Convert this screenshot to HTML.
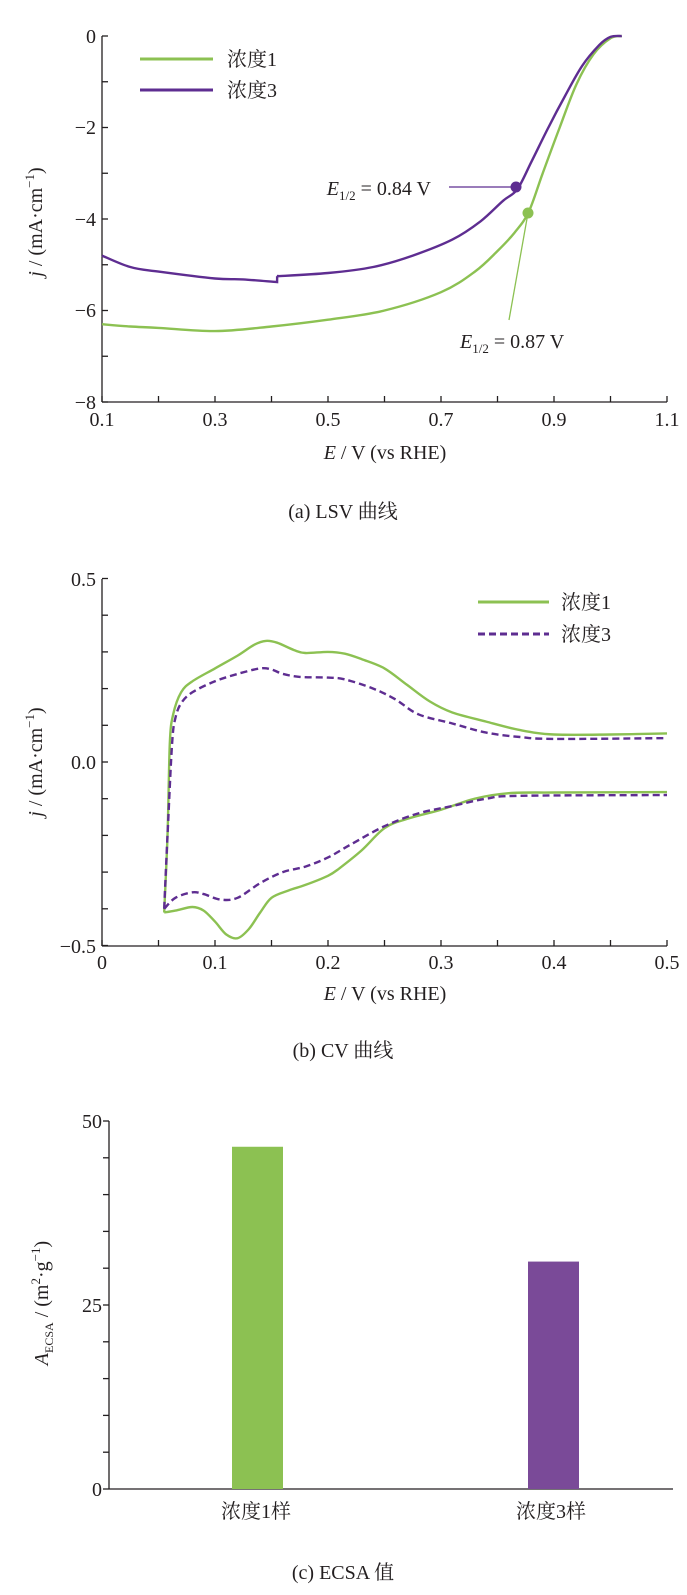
<!DOCTYPE html>
<html><head><meta charset="utf-8">
<style>
html,body{margin:0;padding:0;background:#fff;}
svg{display:block;}
text{font-family:"Liberation Serif","Noto Serif CJK SC","Noto Sans CJK SC",serif;fill:#231f20;}
</style></head>
<body>
<svg id="s" width="687" height="1595" viewBox="0 0 687 1595" xmlns="http://www.w3.org/2000/svg">
<g id="g" stroke-linecap="butt"></g>
<g font-size="20" text-anchor="end">
<text x="96" y="43">0</text><text x="96" y="134">−2</text><text x="96" y="226">−4</text><text x="96" y="317">−6</text><text x="96" y="409">−8</text>
</g>
<g font-size="20" text-anchor="middle">
<text x="102" y="426">0.1</text><text x="215" y="426">0.3</text><text x="328" y="426">0.5</text><text x="441" y="426">0.7</text><text x="554" y="426">0.9</text><text x="667" y="426">1.1</text>
<text x="385" y="459"><tspan font-style="italic">E</tspan> / V (vs RHE)</text>
<text x="343" y="518">(a)  LSV 曲线</text>
</g>
<text transform="translate(42,222) rotate(-90)" font-size="20" text-anchor="middle"><tspan font-style="italic">j</tspan> / (mA·cm<tspan font-size="13" dy="-8">−1</tspan><tspan dy="8">)</tspan></text>
<text x="227" y="66" font-size="20">浓度1</text>
<text x="227" y="97" font-size="20">浓度3</text>
<text x="431" y="195" font-size="20" text-anchor="end"><tspan font-style="italic">E</tspan><tspan font-size="13" dy="5">1/2</tspan><tspan dy="-5"> = 0.84 V</tspan></text>
<text x="460" y="348" font-size="20"><tspan font-style="italic">E</tspan><tspan font-size="13" dy="5">1/2</tspan><tspan dy="-5"> = 0.87 V</tspan></text>
<g font-size="20" text-anchor="end">
<text x="96" y="586">0.5</text><text x="96" y="769">0.0</text><text x="96" y="953">−0.5</text>
</g>
<g font-size="20" text-anchor="middle">
<text x="102" y="969">0</text><text x="215" y="969">0.1</text><text x="328" y="969">0.2</text><text x="441" y="969">0.3</text><text x="554" y="969">0.4</text><text x="667" y="969">0.5</text>
<text x="385" y="1000"><tspan font-style="italic">E</tspan> / V (vs RHE)</text>
<text x="343" y="1057">(b)  CV 曲线</text>
</g>
<text transform="translate(42,762) rotate(-90)" font-size="20" text-anchor="middle"><tspan font-style="italic">j</tspan> / (mA·cm<tspan font-size="13" dy="-8">−1</tspan><tspan dy="8">)</tspan></text>
<text x="561" y="609" font-size="20">浓度1</text>
<text x="561" y="641" font-size="20">浓度3</text>
<g font-size="20" text-anchor="end">
<text x="102" y="1128">50</text><text x="102" y="1312">25</text><text x="102" y="1496">0</text>
</g>
<g font-size="20" text-anchor="middle">
<text x="256" y="1518">浓度1样</text><text x="551" y="1518">浓度3样</text>
<text x="343" y="1579">(c)  ECSA 值</text>
</g>
<text transform="translate(48,1303) rotate(-90)" font-size="20" text-anchor="middle"><tspan font-style="italic">A</tspan><tspan font-size="12" dy="5">ECSA</tspan><tspan dy="-5"> / (m</tspan><tspan font-size="13" dy="-8">2</tspan><tspan dy="8">·g</tspan><tspan font-size="13" dy="-8">−1</tspan><tspan dy="8">)</tspan></text>
</svg>
<script>
(function(){
var g=document.getElementById('g'),NS='http://www.w3.org/2000/svg';
function el(t,a){var e=document.createElementNS(NS,t);for(var k in a)e.setAttribute(k,a[k]);g.appendChild(e);return e;}
function line(x1,y1,x2,y2,c,w,d){var a={x1:x1,y1:y1,x2:x2,y2:y2,stroke:c||'#231f20','stroke-width':w||1.3};if(d)a['stroke-dasharray']=d;el('line',a);}
function smooth(p){var d='M'+p[0][0].toFixed(1)+','+p[0][1].toFixed(1);
for(var i=0;i<p.length-1;i++){var p0=p[i-1]||p[i],p1=p[i],p2=p[i+1],p3=p[i+2]||p2;
var c1=[p1[0]+(p2[0]-p0[0])/6,p1[1]+(p2[1]-p0[1])/6],c2=[p2[0]-(p3[0]-p1[0])/6,p2[1]-(p3[1]-p1[1])/6];
d+=' C'+c1[0].toFixed(1)+','+c1[1].toFixed(1)+' '+c2[0].toFixed(1)+','+c2[1].toFixed(1)+' '+p2[0].toFixed(1)+','+p2[1].toFixed(1);}return d;}
var G='#8cc152',P='#5e2d91';
function ax(v){return 102+(v-0.1)*565;} function ay(v){return 36-v*45.75;}
line(102,36,102,402);line(102,402,667,402);
for(var i=0;i<=8;i++){line(102,ay(-i),108,ay(-i));}
for(var v=0.1;v<1.101;v+=0.1){var x=ax(v);line(x,402,x,396);}
function pa(arr){return arr.map(function(p){return [ax(p[0]),ay(p[1])];});}
var gA=[[0.1,-6.3],[0.15,-6.35],[0.2,-6.38],[0.3,-6.45],[0.4,-6.35],[0.5,-6.2],[0.6,-6.0],[0.7,-5.6],[0.76,-5.15],[0.8,-4.7],[0.83,-4.3],[0.855,-3.85],[0.88,-3.0],[0.91,-2.0],[0.94,-1.05],[0.97,-0.4],[1.0,-0.05],[1.02,0]];
var pA1=[[0.1,-4.8],[0.15,-5.05],[0.2,-5.15],[0.3,-5.3],[0.35,-5.32],[0.41,-5.38]];
var pA2=[[0.41,-5.25],[0.5,-5.18],[0.58,-5.05],[0.65,-4.8],[0.72,-4.45],[0.77,-4.05],[0.81,-3.6],[0.835,-3.35],[0.86,-2.75],[0.89,-2.0],[0.92,-1.3],[0.95,-0.65],[0.98,-0.2],[1.0,-0.02],[1.02,0]];
el('path',{d:smooth(pa(gA)),fill:'none',stroke:G,'stroke-width':2.4});
el('path',{d:smooth(pa(pA1))+' L'+ax(0.41)+','+ay(-5.25)+' '+smooth(pa(pA2)).replace('M','L'),fill:'none',stroke:P,'stroke-width':2.4});
line(140,59,213,59,G,3);line(140,90,213,90,P,3);
line(449,187,516,187,P,1.3);el('circle',{cx:516,cy:187,r:5.5,fill:P});
line(528,213,509,320,G,1.3);el('circle',{cx:528,cy:213,r:5.5,fill:G});
function bx(v){return 102+v*1130;} function by(v){return 762-v*367;}
line(102,579,102,946);line(102,946,667,946);
for(var k=-5;k<=5;k++){line(102,by(k/10),108,by(k/10));}
for(var k=0;k<=10;k++){var x=bx(k*0.05);line(x,946,x,940);}
function pb(arr){return arr.map(function(p){return [bx(p[0]),by(p[1])];});}
var gU=[[0.055,-0.41],[0.058,-0.2],[0.06,0.05],[0.063,0.13],[0.07,0.19],[0.08,0.22],[0.1,0.255],[0.12,0.29],[0.135,0.32],[0.145,0.33],[0.155,0.325],[0.17,0.305],[0.18,0.297],[0.2,0.3],[0.215,0.295],[0.23,0.28],[0.25,0.255],[0.27,0.21],[0.29,0.165],[0.31,0.135],[0.34,0.11],[0.37,0.087],[0.4,0.075],[0.45,0.075],[0.5,0.078]];
var gL=[[0.055,-0.41],[0.065,-0.405],[0.08,-0.395],[0.09,-0.405],[0.1,-0.435],[0.11,-0.47],[0.12,-0.48],[0.13,-0.455],[0.14,-0.41],[0.15,-0.37],[0.165,-0.35],[0.18,-0.335],[0.2,-0.31],[0.21,-0.29],[0.23,-0.24],[0.25,-0.18],[0.27,-0.155],[0.3,-0.13],[0.33,-0.1],[0.36,-0.085],[0.4,-0.083],[0.5,-0.082]];
var pU=[[0.055,-0.4],[0.058,-0.2],[0.062,0.05],[0.065,0.12],[0.07,0.16],[0.08,0.19],[0.1,0.22],[0.12,0.24],[0.14,0.255],[0.15,0.252],[0.16,0.24],[0.175,0.232],[0.2,0.23],[0.215,0.225],[0.24,0.2],[0.26,0.17],[0.28,0.13],[0.31,0.105],[0.34,0.08],[0.37,0.068],[0.4,0.063],[0.5,0.065]];
var pL=[[0.055,-0.4],[0.065,-0.37],[0.08,-0.355],[0.09,-0.36],[0.105,-0.375],[0.12,-0.37],[0.14,-0.33],[0.16,-0.3],[0.18,-0.285],[0.2,-0.26],[0.22,-0.225],[0.25,-0.175],[0.28,-0.14],[0.31,-0.12],[0.34,-0.1],[0.37,-0.092],[0.5,-0.09]];
[gU,gL].forEach(function(a){el('path',{d:smooth(pb(a)),fill:'none',stroke:G,'stroke-width':2.4});});
[pU,pL].forEach(function(a){el('path',{d:smooth(pb(a)),fill:'none',stroke:P,'stroke-width':2.4,'stroke-dasharray':'7,4'});});
line(478,602,549,602,G,3);line(478,634,549,634,P,3,'7,4');
function cy(v){return 1489-v*7.36;}
line(109,1121,109,1489);line(109,1489,673,1489);
for(var k=0;k<=10;k++){line(103,cy(k*5),109,cy(k*5));}
el('rect',{x:232,y:cy(46.5),width:51,height:1489-cy(46.5),fill:'#8cc152'});
el('rect',{x:528,y:cy(30.9),width:51,height:1489-cy(30.9),fill:'#7a4a98'});
})();
</script>
</body></html>
